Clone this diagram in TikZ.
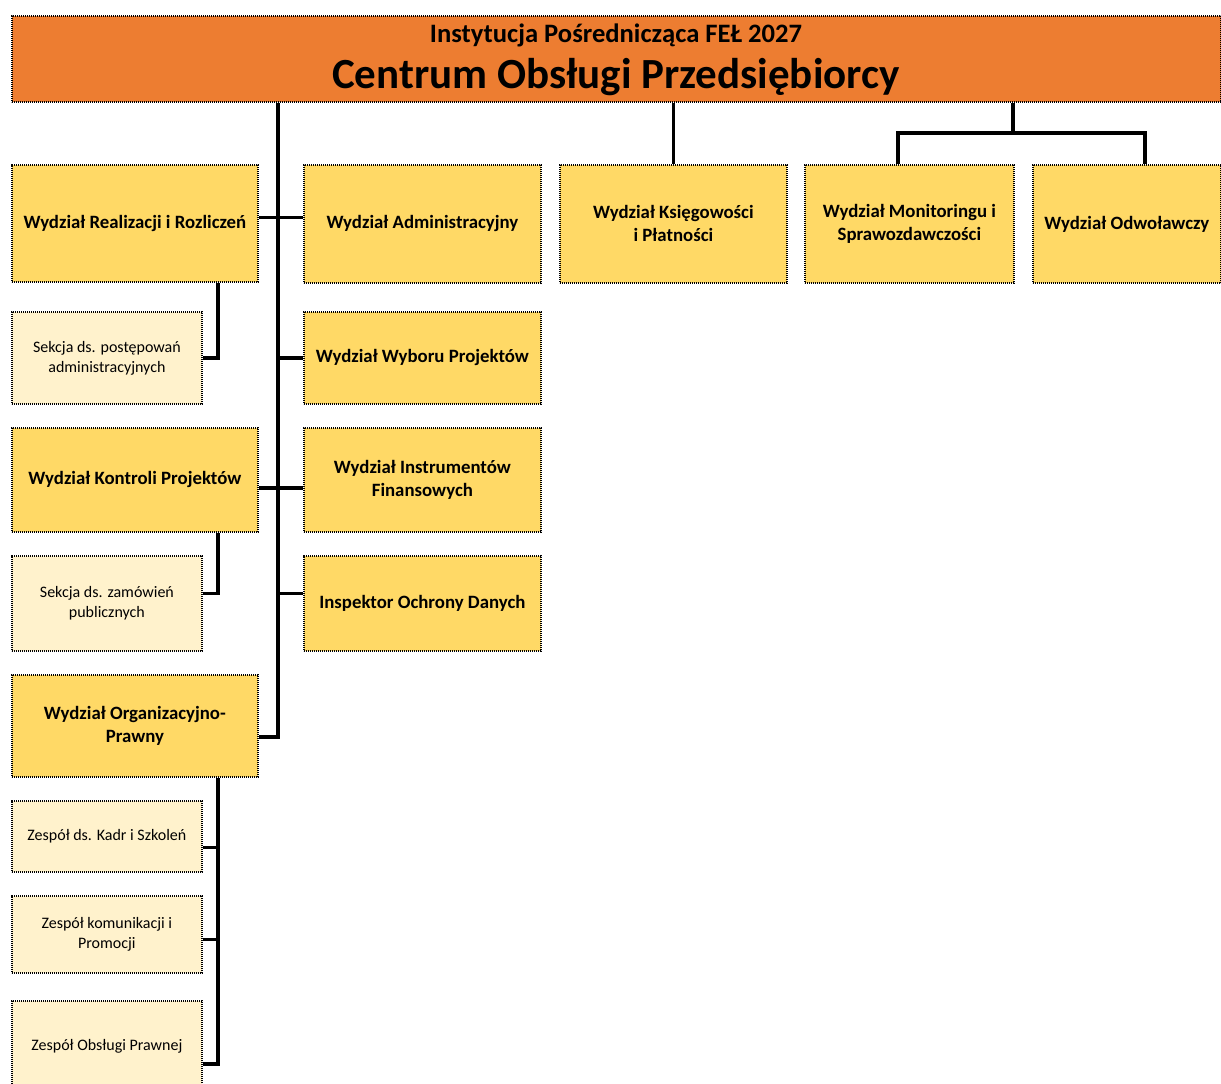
\documentclass[tikz,border=0pt]{standalone}
\usepackage{fontspec}
\setmainfont{Carlito}
\definecolor{orng}{HTML}{ED7D31}
\definecolor{yel}{HTML}{FFD966}
\definecolor{lyel}{HTML}{FFF2CC}
\begin{document}
\begin{tikzpicture}[x=1pt,y=-1pt,
  box/.style={draw=black, line width=1.8pt, dash pattern=on 1.2pt off 0.8pt, anchor=north west, inner sep=0pt, align=center, text=black},
  ybox/.style={box, fill=yel, font=\bfseries\fontsize{18.8}{23}\selectfont},
  lbox/.style={box, fill=lyel, font=\fontsize{16}{20}\selectfont},
  conn/.style={line width=3.5pt, black, line join=miter},
  ttl/.style={anchor=base, text=black, inner sep=0pt}]
\useasboundingbox (0,0) rectangle (1221,1084);
% boxes
\node[box, fill=orng, minimum width=1209pt, minimum height=86pt] (top) at (11,15) {};
\node[ttl, font=\bfseries\fontsize{26.6}{30}\selectfont] (sub) at (616,42) {Instytucja Pośrednicząca FEŁ 2027};
\node[ttl, font=\bfseries\fontsize{43}{50}\selectfont] (title) at (616,88) {Centrum Obsługi Przedsiębiorcy};

\node[ybox, minimum width=246pt, minimum height=117pt] (real) at (11,164) {Wydział Realizacji i Rozliczeń};
\node[ybox, minimum width=237pt, minimum height=118pt] (admin) at (303,164) {Wydział Administracyjny};
\node[ybox, minimum width=227pt, minimum height=118pt] (ksieg) at (559,164) {Wydział Księgowości\\i Płatności};
\node[ybox, minimum width=209pt, minimum height=118pt] (monit) at (804,164) {Wydział Monitoringu i\\Sprawozdawczości};
\node[ybox, minimum width=188pt, minimum height=118pt] (odw) at (1032,164) {Wydział Odwoławczy};

\node[lbox, minimum width=190pt, minimum height=92pt] (sekA) at (11,311) {Sekcja ds. postępowań\\administracyjnych};
\node[ybox, minimum width=237pt, minimum height=92pt] (wyb) at (303,311) {Wydział Wyboru Projektów};
\node[ybox, minimum width=246pt, minimum height=104pt] (kontr) at (11,427) {Wydział Kontroli Projektów};
\node[ybox, minimum width=237pt, minimum height=104pt] (instr) at (303,427) {Wydział Instrumentów\\Finansowych};
\node[lbox, minimum width=190pt, minimum height=95pt] (sekB) at (11,555) {Sekcja ds. zamówień\\publicznych};
\node[ybox, minimum width=237pt, minimum height=95pt] (iod) at (303,555) {Inspektor Ochrony Danych};
\node[ybox, minimum width=246pt, minimum height=102pt] (org) at (11,674) {Wydział Organizacyjno-\\Prawny};
\node[lbox, minimum width=190pt, minimum height=71pt] (kadr) at (11,800) {Zespół ds. Kadr i Szkoleń};
\node[lbox, minimum width=190pt, minimum height=77pt] (kom) at (11,895) {Zespół komunikacji i\\Promocji};
\node[lbox, minimum width=190pt, minimum height=90pt] (praw) at (11,1000) {Zespół Obsługi Prawnej};

% connectors
\coordinate (tx) at (278,0);
\coordinate (sx) at (218,0);
\draw[conn] (top.south -| tx) |- ([yshift=-11pt]org.east);
\draw[conn] ([yshift=6pt]real.east) -- ([yshift=6pt]real.east -| admin.west);
\draw[conn] (wyb.west) -- (wyb.west -| tx);
\draw[conn] ([yshift=-8pt]kontr.east) -- ([yshift=-8pt]kontr.east -| instr.west);
\draw[conn] ([yshift=10pt]iod.west) -- ([yshift=10pt]iod.west -| tx);
\draw[conn] (real.south -| sx) |- (sekA.east);
\draw[conn] (kontr.south -| sx) |- ([yshift=10pt]sekB.east);
\draw[conn] (org.south -| sx) |- ([yshift=-18pt]praw.east);
\draw[conn] ([yshift=-11pt]kadr.east) -- ([yshift=-11pt]kadr.east -| sx);
\draw[conn] ([yshift=-5pt]kom.east) -- ([yshift=-5pt]kom.east -| sx);
\draw[conn] (top.south -| ksieg.north) -- (ksieg.north);
\coordinate (mc) at (1013,133);
\coordinate (ml) at (898,133);
\coordinate (mr) at (1145,133);
\draw[conn] (top.south -| mc) -- (mc);
\draw[conn] (monit.north -| ml) -- (ml) -- (mr) -- (odw.north -| mr);
\end{tikzpicture}
\end{document}
